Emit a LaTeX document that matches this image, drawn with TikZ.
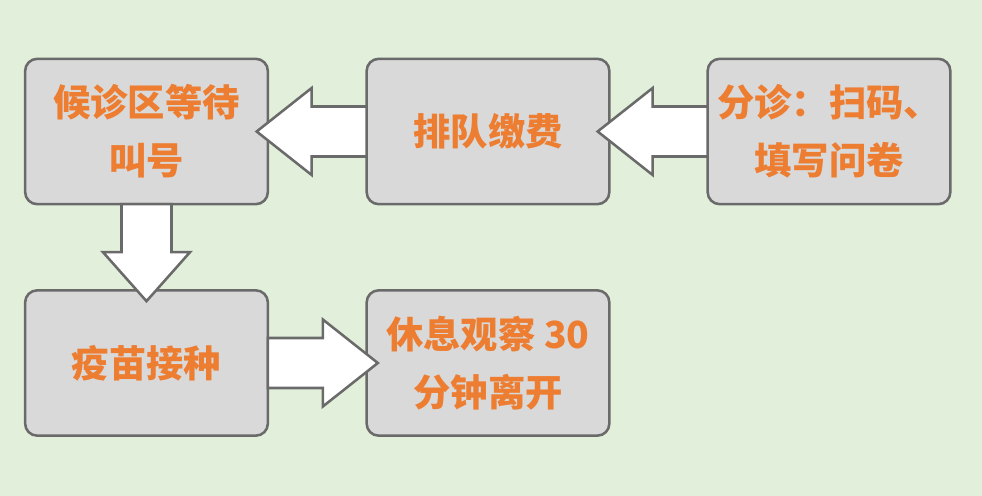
\documentclass[tikz,border=0pt]{standalone}
\usepackage{fontspec}
\newfontfamily\cjk{Noto Sans CJK SC}
\usetikzlibrary{calc}
\definecolor{bggreen}{HTML}{E2EFDA}
\definecolor{boxgray}{HTML}{D9D9D9}
\definecolor{linegray}{HTML}{6A6A6A}
\definecolor{txtorange}{HTML}{ED7D31}
\tikzset{
  box/.style={draw=linegray,line width=1.9pt,fill=boxgray,rounded corners=9pt,
    minimum width=182pt,minimum height=109pt,outer sep=0pt,inner sep=0pt,
    align=center,text=txtorange,font=\cjk\bfseries\fontsize{28}{43.5}\selectfont},
  bigarrow/.style={draw=linegray,line width=1.9pt,fill=white,line join=miter}
}
\begin{document}
\begin{tikzpicture}[x=0.75pt,y=-0.75pt]
  \fill[bggreen] (0,0) rectangle (982,496);
  \useasboundingbox (0,0) rectangle (982,496);

  \node[box] (houzhen) at (146.5,131.5) {候诊区等待\\叫号};
  \node[box] (jiaofei) at (488,131.5) {排队缴费};
  \node[box] (fenzhen) at (829,131.5) {分诊：扫码、\\填写问卷};
  \node[box] (jiezhong) at (146.5,363) {疫苗接种};
  \node[box] (guancha) at (488,363) {休息观察 30\\分钟离开};

  % block arrows
  \draw[bigarrow] ($(jiaofei.west)+(0,-25)$) -- ++(-55,0) -- ++(0,-18.5) -- ++(-55,43.5)
    -- ++(55,43.5) -- ++(0,-18.5) -- ++(55,0) -- cycle;
  \draw[bigarrow] ($(fenzhen.west)+(0,-25)$) -- ++(-55,0) -- ++(0,-18.5) -- ++(-55,43.5)
    -- ++(55,43.5) -- ++(0,-18.5) -- ++(55,0) -- cycle;
  \draw[bigarrow] ($(houzhen.south)+(-25,0)$) -- ++(0,48) -- ++(-18.5,0) -- ++(43.5,49)
    -- ++(43.5,-49) -- ++(-18.5,0) -- ++(0,-48) -- cycle;
  \draw[bigarrow] ($(jiezhong.east)+(0,-25)$) -- ++(55,0) -- ++(0,-18.5) -- ++(55,43.5)
    -- ++(-55,43.5) -- ++(0,-18.5) -- ++(-55,0) -- cycle;
\end{tikzpicture}
\end{document}
